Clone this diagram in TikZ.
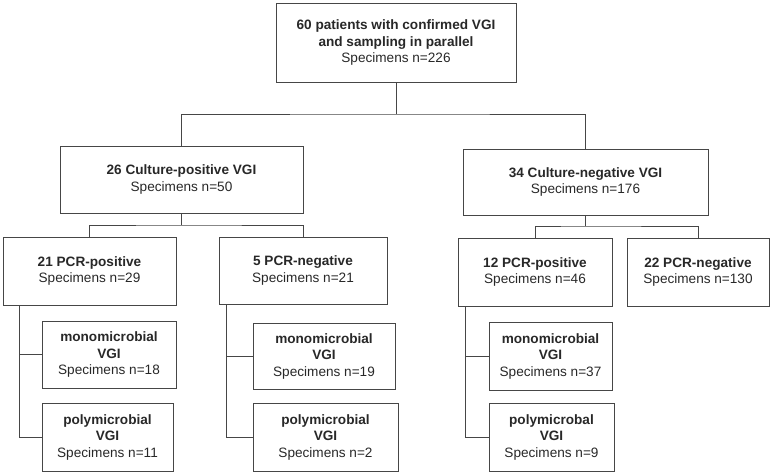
\documentclass[tikz,border=0pt]{standalone}
\usepackage{fontspec}
\setmainfont{Liberation Sans}
\usepackage{tikz}
\definecolor{linegray}{RGB}{70,70,70}
\definecolor{textgray}{RGB}{40,40,40}
\tikzset{box/.style={draw=linegray, line width=1pt, align=center, text=textgray, inner sep=0pt, font=\fontsize{13.6}{16.5}\selectfont}}
\tikzset{link/.style={draw=linegray, line width=1pt}}
\newcommand{\specn}[1]{Specimens n=#1}

\begin{document}
\begin{tikzpicture}[x=1pt, y=-1pt]
      \useasboundingbox (0,0) rectangle (773,475);

      \node[box, minimum width=240, minimum height=79] (all) at (396, 42.5) {\textbf{60 patients with confirmed VGI}\\\textbf{and sampling in parallel}\\\specn{226}}; 
      \node[box, minimum width=243, minimum height=67] (cpos) at (181.5, 179.5) {\textbf{26 Culture-positive VGI}\\\specn{50}}; 
      \node[box, minimum width=245, minimum height=66] (cneg) at (585.5, 182) {\textbf{34 Culture-negative VGI}\\\specn{176}}; 

      \node[box, minimum width=173, minimum height=68] (pA) at (89.5, 271) {\textbf{21 PCR-positive}\\\specn{29}}; 
      \node[box, minimum width=168, minimum height=67] (nA) at (303, 270.5) {\textbf{5 PCR-negative}\\\specn{21}}; 
      \node[box, minimum width=154, minimum height=68] (pB) at (535, 272) {\textbf{12 PCR-positive}\\\specn{46}}; 
      \node[box, minimum width=142, minimum height=68] (nB) at (698, 272) {\textbf{22 PCR-negative}\\\specn{130}}; 

      \node[box, minimum width=134, minimum height=67] (monoA) at (109, 354.5) {\textbf{monomicrobial}\\\textbf{VGI}\\\specn{18}}; 
      \node[box, minimum width=131, minimum height=68] (polyA) at (107.5, 437) {\textbf{polymicrobial}\\\textbf{VGI}\\\specn{11}}; 
      \node[box, minimum width=142, minimum height=66] (monoB) at (324, 356) {\textbf{monomicrobial}\\\textbf{VGI}\\\specn{19}}; 
      \node[box, minimum width=145, minimum height=68] (polyB) at (325.5, 437) {\textbf{polymicrobial}\\\textbf{VGI}\\\specn{2}}; 
      \node[box, minimum width=123, minimum height=68] (monoC) at (550.5, 356) {\textbf{monomicrobial}\\\textbf{VGI}\\\specn{37}}; 
      \node[box, minimum width=125, minimum height=68] (polyC) at (551.5, 437) {\textbf{polymicrobal}\\\textbf{VGI}\\\specn{9}}; 

      \coordinate (j0) at (396, 114);
      \coordinate (j1) at (181.5, 225);
      \coordinate (j2) at (585.5, 226);
      \coordinate (bA) at (19, 305);
      \coordinate (bB) at (226, 304);
      \coordinate (bC) at (465, 306);

      \draw[link] (all.south) -- (j0);
      \draw[link] (cpos.north) |- (j0) -| (cneg.north);
      \draw[link] (cpos.south) -- (j1);
      \draw[link] (pA.north) |- (j1) -| (nA.north);
      \draw[link] (cneg.south) -- (j2);
      \draw[link] (pB.north) |- (j2) -| (nB.north);

      \draw[link] (bA) |- (polyA.west);
      \draw[link] (bA |- monoA.west) -- (monoA.west);
      \draw[link] (bB) |- (polyB.west);
      \draw[link] (bB |- monoB.west) -- (monoB.west);
      \draw[link] (bC) |- (polyC.west);
      \draw[link] (bC |- monoC.west) -- (monoC.west);
    \end{tikzpicture}
\end{document}
